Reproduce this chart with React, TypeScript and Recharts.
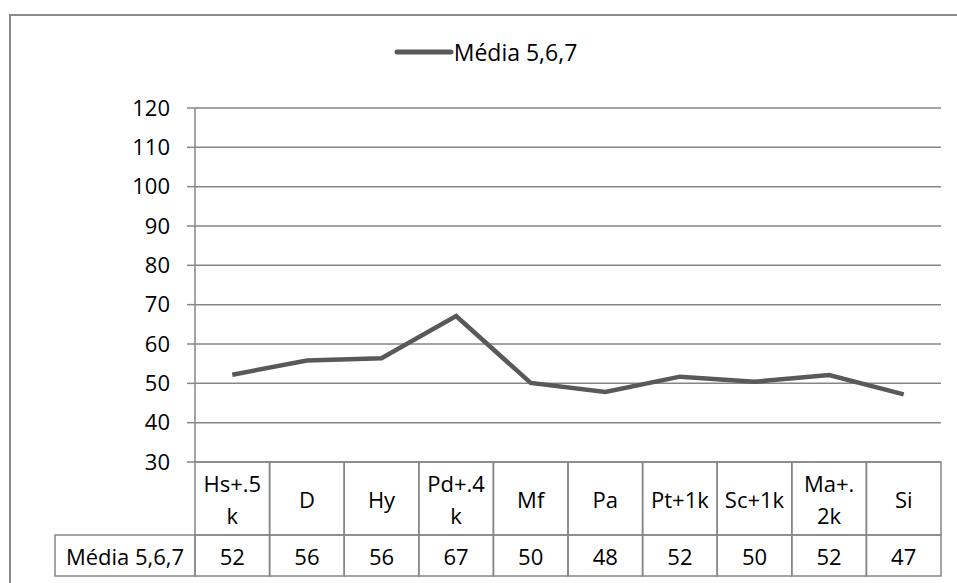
import React from "react";
import { LineChart, Line, XAxis, YAxis, CartesianGrid, Legend } from "recharts";

const categories = ["Hs+.5k", "D", "Hy", "Pd+.4k", "Mf", "Pa", "Pt+1k", "Sc+1k", "Ma+.2k", "Si"];
const categoryLines = [["Hs+.5", "k"], ["D"], ["Hy"], ["Pd+.4", "k"], ["Mf"], ["Pa"], ["Pt+1k"], ["Sc+1k"], ["Ma+.", "2k"], ["Si"]];
const media = [52.2, 55.8, 56.4, 67.1, 50.1, 47.8, 51.7, 50.4, 52.1, 47.2];
const seriesName = "Média 5,6,7";
const yTicks = [30, 40, 50, 60, 70, 80, 90, 100, 110, 120];

const data = categories.map((c, i) => ({ cat: c, v: media[i] }));

const W = 957;
const H = 583;
const PLOT_LEFT = 195;
const PLOT_RIGHT = 941;
const BAND = (PLOT_RIGHT - PLOT_LEFT) / categories.length;
const FONT = "'Open Sans', 'DejaVu Sans', sans-serif";
const GRID = "#868686";
const LINE = "#595959";
const ROW1_H = 73;
const ROW2_H = 41;
const HEADER_LEFT = 55;
const FS = 22;
const LEGEND_H = 30;

const TableTick = (props: any) => {
  const { x, y, payload, index } = props;
  const left = x - BAND / 2;
  const lines = categoryLines[index] || [payload.value];
  const val = Math.round(media[index]);
  const midY1 = y + ROW1_H / 2;
  const midY2 = y + ROW1_H + ROW2_H / 2;
  return (
    <g>
      <rect x={left} y={y} width={BAND} height={ROW1_H} fill="none" stroke={GRID} strokeWidth={1.5} />
      <rect x={left} y={y + ROW1_H} width={BAND} height={ROW2_H} fill="none" stroke={GRID} strokeWidth={1.5} />
      {lines.length === 1 ? (
        <text x={x} y={midY1} textAnchor="middle" dominantBaseline="central" fontSize={FS} fontFamily={FONT} fill="#000">
          {lines[0]}
        </text>
      ) : (
        <text x={x} y={midY1} textAnchor="middle" dominantBaseline="central" fontSize={FS} fontFamily={FONT} fill="#000">
          <tspan x={x} dy={-16}>{lines[0]}</tspan>
          <tspan x={x} dy={32}>{lines[1]}</tspan>
        </text>
      )}
      <text x={x} y={midY2} textAnchor="middle" dominantBaseline="central" fontSize={FS} fontFamily={FONT} fill="#000">
        {val}
      </text>
      {index === 0 && (
        <g>
          <rect x={HEADER_LEFT} y={y + ROW1_H} width={left - HEADER_LEFT} height={ROW2_H} fill="none" stroke={GRID} strokeWidth={1.5} />
          <text x={(HEADER_LEFT + left) / 2} y={midY2} textAnchor="middle" dominantBaseline="central" fontSize={FS} fontFamily={FONT} fill="#000">
            {seriesName}
          </text>
        </g>
      )}
    </g>
  );
};

const LegendContent = () => (
  <div style={{ height: LEGEND_H, display: "flex", alignItems: "center", justifyContent: "center", fontFamily: FONT, fontSize: 23, color: "#000", paddingLeft: 14 }}>
    <svg width={60} height={10}>
      <line x1={3} y1={5} x2={57} y2={5} stroke={LINE} strokeWidth={5} strokeLinecap="round" />
    </svg>
    <span>{seriesName}</span>
  </div>
);

export default function App() {
  return (
    <div style={{ position: "absolute", left: 0, top: 0, width: W, height: H, background: "#fff" }}>
      <div style={{ position: "absolute", left: 9, top: 14, width: W, height: H, border: "2px solid #8a8a8a", boxSizing: "border-box" }} />
      <LineChart width={W} height={H} data={data} margin={{ top: 108 - LEGEND_H, right: W - PLOT_RIGHT, bottom: 7, left: PLOT_LEFT - 60 }}>
        <CartesianGrid vertical={false} stroke={GRID} strokeWidth={1.5} />
        <XAxis
          dataKey="cat"
          scale="band"
          interval={0}
          height={114}
          tickSize={0}
          tickMargin={0}
          axisLine={false}
          tickLine={false}
          tick={<TableTick />}
        />
        <YAxis
          domain={[30, 120]}
          ticks={yTicks}
          width={60}
          interval={0}
          tickSize={8}
          tickMargin={17}
          axisLine={{ stroke: GRID, strokeWidth: 1.5 }}
          tickLine={{ stroke: GRID, strokeWidth: 1.5 }}
          tick={{ fill: "#000", fontSize: FS, fontFamily: FONT }}
        />
        <Legend verticalAlign="top" align="center" wrapperStyle={{ top: 37, left: 0, width: W }} content={<LegendContent />} />
        <Line
          type="linear"
          dataKey="v"
          name={seriesName}
          stroke={LINE}
          strokeWidth={4.5}
          dot={false}
          isAnimationActive={false}
        />
      </LineChart>
    </div>
  );
}
